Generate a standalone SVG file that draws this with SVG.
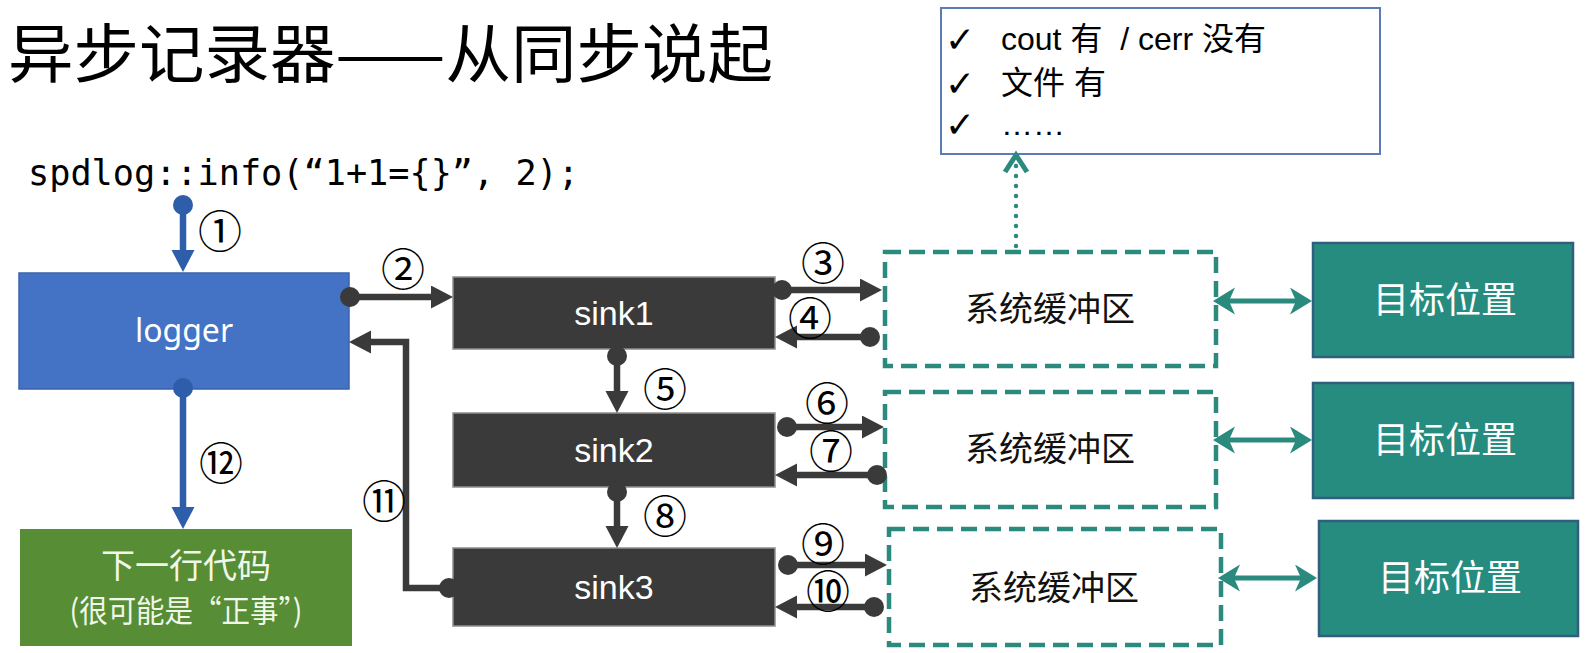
<svg xmlns="http://www.w3.org/2000/svg" width="1587" height="653" viewBox="0 0 1587 653">
<style>
.cjk{font-family:"Noto Sans CJK SC","Noto Sans",sans-serif}
.num{font-family:"Noto Sans CJK SC","DejaVu Sans",sans-serif;font-size:44px;fill:#000;text-anchor:middle}
.chk{font-family:"DejaVu Sans",sans-serif;font-size:36px;fill:#000}
.sink{fill:#3A3A3A;stroke:#8E8E8E;stroke-width:1.5}
.sinkt{font-family:"Liberation Sans",Arial,sans-serif;font-size:34px;fill:#fff;text-anchor:middle}
.buf{fill:#fff;stroke:#2A8A7E;stroke-width:4.5;stroke-dasharray:16 8}
.buft{font-family:"Noto Sans CJK SC",sans-serif;font-size:34px;fill:#111;text-anchor:middle}
.tgt{fill:#278C80;stroke:#2F5E7E;stroke-width:2.5}
.tgtt{font-family:"Noto Sans CJK SC",sans-serif;font-size:36px;fill:#fff;text-anchor:middle}
.dk{fill:none;stroke:#3A3A3A;stroke-width:6.5;marker-start:url(#dotD);marker-end:url(#arrD)}
.bl{fill:none;stroke:#2E5EAA;stroke-width:6.5;marker-start:url(#dotB);marker-end:url(#arrB)}
.tl{fill:none;stroke:#2A8A7E;stroke-width:5;marker-start:url(#arrT);marker-end:url(#arrT)}
</style>
<defs>
<marker id="arrD" markerUnits="userSpaceOnUse" markerWidth="24" markerHeight="24" refX="12" refY="11.5" orient="auto"><path d="M0,0 L22,11.5 L0,23 z" fill="#3A3A3A"/></marker>
<marker id="dotD" markerUnits="userSpaceOnUse" markerWidth="22" markerHeight="22" refX="11" refY="11" orient="auto"><circle cx="11" cy="11" r="10" fill="#3A3A3A"/></marker>
<marker id="arrB" markerUnits="userSpaceOnUse" markerWidth="24" markerHeight="24" refX="12" refY="11.5" orient="auto"><path d="M0,0 L22,11.5 L0,23 z" fill="#2E5EAA"/></marker>
<marker id="dotB" markerUnits="userSpaceOnUse" markerWidth="22" markerHeight="22" refX="11" refY="11" orient="auto"><circle cx="11" cy="11" r="10" fill="#2E5EAA"/></marker>
<marker id="arrT" markerUnits="userSpaceOnUse" markerWidth="26" markerHeight="28" refX="12" refY="13.5" orient="auto-start-reverse"><path d="M0,0 L22,13.5 L0,27 L6,13.5 z" fill="#2A8A7E"/></marker>
</defs>

<g id="title">
<text x="8" y="77" class="cjk" font-size="64" fill="#000" textLength="765" lengthAdjust="spacingAndGlyphs">异步记录器——从同步说起</text>
</g>
<g id="code">
<text x="28" y="185" font-family="DejaVu Sans Mono, Liberation Mono, monospace" font-size="35" fill="#000" textLength="551" lengthAdjust="spacingAndGlyphs">spdlog::info(“1+1={}”, 2);</text>
</g>

<g id="note">
<rect x="941" y="8" width="439" height="146" fill="#fff" stroke="#5A7BB5" stroke-width="2"/>
<text class="chk" x="945" y="52">✓</text>
<text class="chk" x="945" y="96">✓</text>
<text class="chk" x="945" y="137">✓</text>
<text x="1001" y="50" font-family="Liberation Sans,Noto Sans CJK SC,sans-serif" font-size="32" fill="#000" xml:space="preserve">cout 有  / cerr 没有</text>
<text x="1001" y="94" font-family="Liberation Sans,Noto Sans CJK SC,sans-serif" font-size="32" fill="#000">文件 有</text>
<text x="1001" y="135" font-family="Liberation Sans,Noto Sans CJK SC,sans-serif" font-size="32" fill="#000">……</text>
</g>

<g id="logger">
<rect x="19" y="273" width="330" height="116" fill="#4472C4" stroke="#3B63AD" stroke-width="1.5"/>
<text x="184" y="342" font-family="Noto Sans,Open Sans,sans-serif" font-size="32" fill="#fff" text-anchor="middle">logger</text>
</g>

<g id="nextcode">
<rect x="20" y="529" width="332" height="117" fill="#578D34"/>
<text x="186" y="578" class="cjk" font-size="34" fill="#F0F7EA" text-anchor="middle">下一行代码</text>
<text x="186" y="622" class="cjk" font-size="31" fill="#F0F7EA" text-anchor="middle" textLength="233" lengthAdjust="spacingAndGlyphs">(很可能是“正事”)</text>
</g>

<g id="sink1"><rect class="sink" x="453" y="277" width="322" height="72"/><text class="sinkt" x="614" y="325">sink1</text></g>
<g id="sink2"><rect class="sink" x="453" y="413" width="322" height="74"/><text class="sinkt" x="614" y="462">sink2</text></g>
<g id="sink3"><rect class="sink" x="453" y="548" width="322" height="78"/><text class="sinkt" x="614" y="599">sink3</text></g>

<g id="buffer1"><rect class="buf" x="885" y="252" width="331" height="114"/><text class="buft" x="1050" y="321">系统缓冲区</text></g>
<g id="buffer2"><rect class="buf" x="885" y="392" width="331" height="115"/><text class="buft" x="1050" y="461">系统缓冲区</text></g>
<g id="buffer3"><rect class="buf" x="889" y="529" width="332" height="116"/><text class="buft" x="1054" y="600">系统缓冲区</text></g>

<g id="target1"><rect class="tgt" x="1313" y="243" width="260" height="114"/><text class="tgtt" x="1445" y="313">目标位置</text></g>
<g id="target2"><rect class="tgt" x="1313" y="383" width="260" height="115"/><text class="tgtt" x="1445" y="453">目标位置</text></g>
<g id="target3"><rect class="tgt" x="1319" y="521" width="259" height="115"/><text class="tgtt" x="1450" y="591">目标位置</text></g>

<g id="connectors">
<path class="bl" d="M183,205 V262"/>
<path class="bl" d="M183,388 V519"/>
<path class="dk" d="M350,297 H443"/>
<path class="dk" d="M449,588 H406 V342 H359"/>
<path class="dk" d="M782,290 H872"/>
<path class="dk" d="M870,337 H785"/>
<path class="dk" d="M617,356 V403"/>
<path class="dk" d="M787,427 H874"/>
<path class="dk" d="M877,475 H785"/>
<path class="dk" d="M617,492 V538"/>
<path class="dk" d="M788,565 H877"/>
<path class="dk" d="M874,607 H785"/>
<path class="tl" d="M1223,301 H1302"/>
<path class="tl" d="M1223,440 H1302"/>
<path class="tl" d="M1228,578 H1307"/>
<path d="M1016,246 V164" fill="none" stroke="#2A8A7E" stroke-width="4.5" stroke-linecap="round" stroke-dasharray="0 10"/>
<polyline points="1005,172 1016,155 1027,172" fill="none" stroke="#2A8A7E" stroke-width="5" stroke-linejoin="miter"/>
</g>

<g id="labels">
<text class="num" x="220" y="248">①</text>
<text class="num" x="403" y="286">②</text>
<text class="num" x="823" y="280">③</text>
<text class="num" x="810" y="335">④</text>
<text class="num" x="665" y="406">⑤</text>
<text class="num" x="827" y="420">⑥</text>
<text class="num" x="831" y="468">⑦</text>
<text class="num" x="665" y="533">⑧</text>
<text class="num" x="823" y="561">⑨</text>
<text class="num" x="828" y="608">⑩</text>
<text class="num" x="384" y="518">⑪</text>
<text class="num" x="221" y="480">⑫</text>
</g>
</svg>
